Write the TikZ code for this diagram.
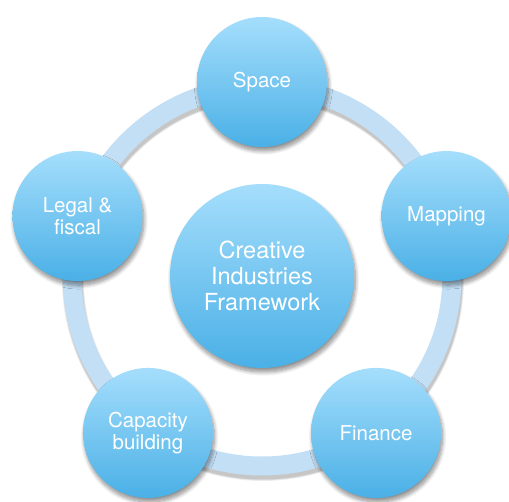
\documentclass[tikz,border=0pt]{standalone}
\usepackage{fontspec}
\setmainfont{TeX Gyre Heros}
\usetikzlibrary{shadows.blur,calc}
\definecolor{ringblue}{HTML}{C3DFF5}
\definecolor{topblue}{HTML}{A5DEFC}
\definecolor{botblue}{HTML}{4AB0E6}
\begin{document}
\begin{tikzpicture}[x=1pt,y=1pt,
  bubble/.style={circle, inner sep=0pt, top color=topblue, bottom color=botblue,
    draw=none, text=white, align=center,
    blur shadow={shadow xshift=1.5pt, shadow yshift=-4pt, shadow opacity=45,
      shadow blur steps=10, shadow blur radius=4pt}},
  sat/.style={bubble, minimum size=130pt, font=\fontsize{20.5}{21.5}\selectfont},
  hub/.style={bubble, minimum size=184pt, font=\fontsize{23.5}{26}\selectfont},
  ring/.style={draw=ringblue, line width=19pt}]
\useasboundingbox (0,0) rectangle (509,501);
\coordinate (c) at (262,225);
% ring shadow
\foreach \w/\o in {22/0.06,20.5/0.08,19/0.1}
  \draw[black, opacity=\o, line width=\w pt] ($(c)+(1,-4)$) circle[radius=190];
\draw[ring] (c) circle[radius=190];
\node[sat] (space) at ($(c)+(90:194)$) {Space};
\node[sat] (mapping) at ($(c)+(18:194)$) {Mapping};
\node[sat] (finance) at ($(c)+(-54:194)$) {Finance};
\node[sat] (capacity) at ($(c)+(-126:194)$) {Capacity\\building};
\node[sat] (legal) at ($(c)+(162:194)$) {Legal \&\\fiscal};
\node[hub] (hub) at (c) {Creative\\Industries\\Framework};
\end{tikzpicture}
\end{document}
